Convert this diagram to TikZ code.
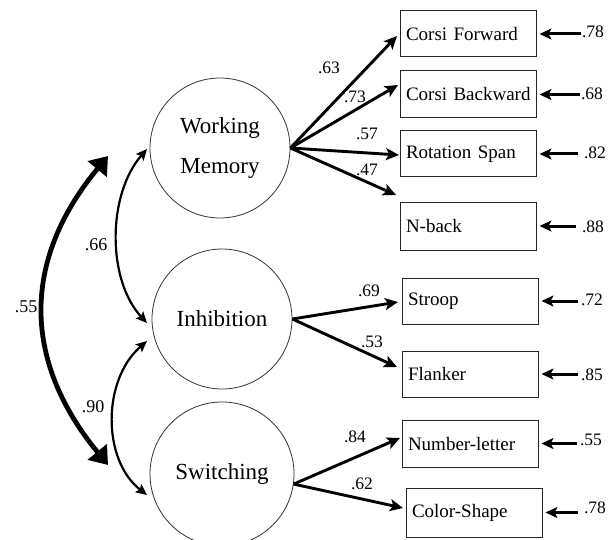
\documentclass[tikz,border=0pt]{standalone}
\usepackage{fontspec}
\setmainfont{Liberation Serif}
\usetikzlibrary{arrows.meta}
\begin{document}
\begin{tikzpicture}[x=1pt,y=-1pt,
 latent/.style={circle,draw=black!80,line width=0.8pt,minimum size=140pt,inner sep=0pt,font=\fontsize{23}{40}\selectfont,align=center},
 obs/.style={draw=black!85,line width=1pt,text width=124pt,inner xsep=6pt,inner ysep=0pt,align=left,font=\fontsize{19}{22}\selectfont},
 coef/.style={inner sep=1pt,font=\fontsize{17.5}{19}\selectfont},
 corlab/.style={inner sep=1pt,font=\fontsize{18}{20}\selectfont},
 load/.style={line width=2.9pt,-{Stealth[length=13pt,width=12pt,inset=3pt]}},
 errarr/.style={line width=3pt,-{Stealth[length=12pt,width=11pt,inset=3pt]},shorten >=3pt},
 cor/.style={line width=2.2pt,{Stealth[length=11pt,width=10pt,inset=2pt]}-{Stealth[length=11pt,width=10pt,inset=2pt]}},
 corbig/.style={line width=4.8pt,{Triangle[length=17pt,width=24pt]}-{Triangle[length=17pt,width=24pt]}}
]
\useasboundingbox (0,0) rectangle (615,540);
\fill[white] (0,0) rectangle (615,540);
\clip (0,0) rectangle (615,540);

% latent variables
\node[latent] (wm) at (220,148) {Working\\Memory};
\node[latent] (inh) at (222,319) {Inhibition};
\node[latent,minimum size=144pt] (sw) at (222,474) {Switching};

% observed variables
\node[obs,minimum height=46pt] (cf) at (468,34) {Corsi Forward};
\node[obs,minimum height=47pt] (cb) at (468,94.5) {\mbox{Corsi Backward}};
\node[obs,minimum height=46pt] (rs) at (468,154) {Rotation Span};
\node[obs,minimum height=48pt] (nb) at (468,226) {N-back};
\node[obs,minimum height=46pt] (st) at (470,301) {Stroop};
\node[obs,minimum height=46pt] (fl) at (470,374) {Flanker};
\node[obs,minimum height=47pt] (nl) at (470,443.5) {Number-letter};
\node[obs,minimum height=49pt] (cs) at (474,512.5) {Color-Shape};

% error terms
\node[coef] (e1) at (593,32) {.78};
\node[coef] (e2) at (592,94) {.68};
\node[coef] (e3) at (595,153) {.82};
\node[coef] (e4) at (593,227) {.88};
\node[coef] (e5) at (592,300) {.72};
\node[coef] (e6) at (592,375) {.85};
\node[coef] (e7) at (591,440) {.55};
\node[coef] (e8) at (595,508) {.78};
\draw[errarr] (cf.east -| e1.west) -- (cf.east);
\draw[errarr] (cb.east -| e2.west) -- (cb.east);
\draw[errarr] ([xshift=-5pt]rs.east -| e3.west) -- (rs.east);
\draw[errarr] ([xshift=-5pt]nb.east -| e4.west) -- (nb.east);
\draw[errarr] ([xshift=-2pt]st.east -| e5.west) -- (st.east);
\draw[errarr] ([xshift=-2pt]fl.east -| e6.west) -- (fl.east);
\draw[errarr] ([xshift=-2pt]nl.east -| e7.west) -- (nl.east);
\draw[errarr] ([xshift=-5pt]cs.east -| e8.west) -- (cs.east);

% loading tips
\coordinate (t1) at (397,36);
\coordinate (t2) at (398,85);
\coordinate (t3) at (399,155);
\coordinate (t4) at (396,195);
\coordinate (t5) at (398,302);
\coordinate (t6) at (397,367);
\coordinate (t7) at (400,438);
\coordinate (t8) at (403,508);

\draw[load] (wm.east) -- (t1);
\draw[load] (wm.east) -- (t2);
\draw[load] (wm.east) -- (t3);
\draw[load] (wm.east) -- (t4);
\draw[load] (inh.east) -- (t5);
\draw[load] (inh.east) -- (t6);
\draw[load] (sw.352) -- (t7);
\draw[load] (sw.352) -- (t8);

\node[coef] (l63) at (329,68) {.63};
\node[coef] (l73) at (355,97) {.73};
\node[coef] (l57) at (367,134) {.57};
\node[coef] (l47) at (367,170) {.47};
\node[coef] (l69) at (369,291) {.69};
\node[coef] (l53) at (372,342) {.53};
\node[coef] (l84) at (355,437) {.84};
\node[coef] (l62) at (362,484) {.62};

% correlations
\coordinate (a66) at (147,149);
\coordinate (b66) at (147,323);
\coordinate (a90) at (147,341);
\coordinate (b90) at (147,495);
\coordinate (a55) at (108,156);
\coordinate (b55) at (108,465);
\draw[cor] (a66) .. controls (107,195) and (107,280) .. (b66);
\draw[cor] (a90) .. controls (102,380) and (102,460) .. (b90);
\draw[corbig] (a55) .. controls (22,260) and (22,360) .. (b55);
\node[corlab] (c66) at (96,245) {.66};
\node[corlab] (c90) at (93,407) {.90};
\node[corlab] (c55) at (26,307) {.55};
\end{tikzpicture}
\end{document}
